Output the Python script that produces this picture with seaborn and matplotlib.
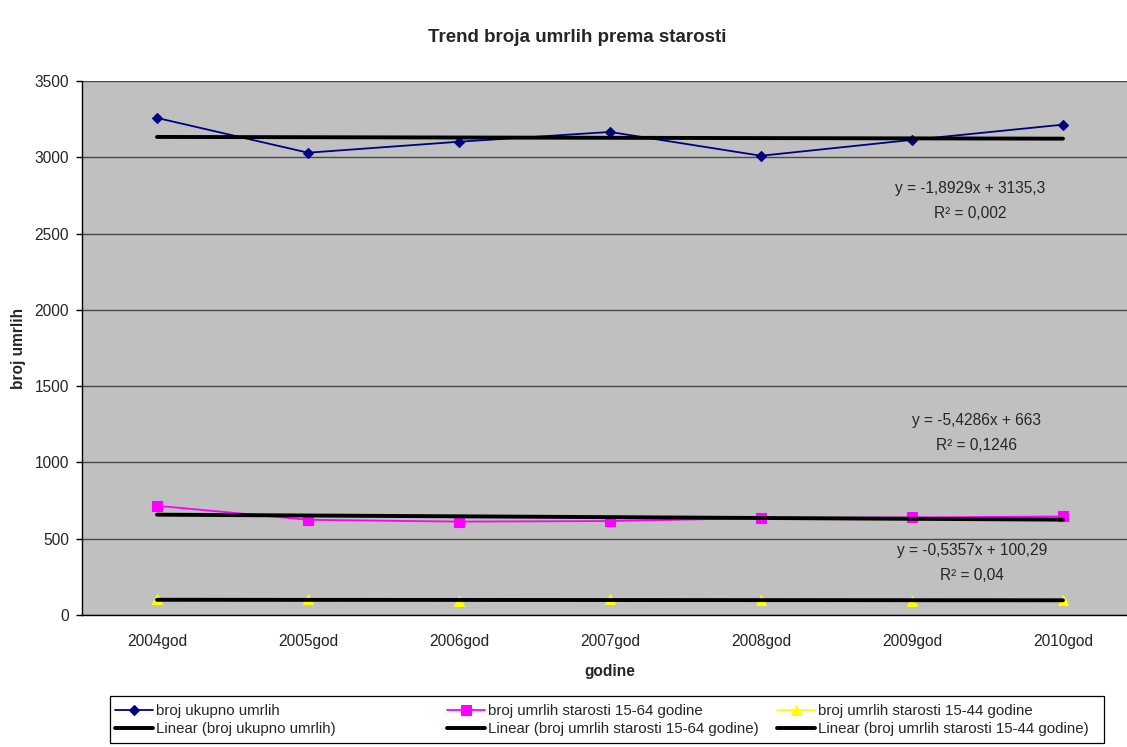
import numpy as np
import pandas as pd
import matplotlib
matplotlib.use("Agg")
import matplotlib.pyplot as plt
from matplotlib.patches import Rectangle
import seaborn as sns

# --- data -------------------------------------------------------------
years = ["2004god", "2005god", "2006god", "2007god", "2008god", "2009god", "2010god"]
total_deaths = [3258, 3030, 3102, 3166, 3010, 3114, 3214]
deaths_15_64 = [716, 624, 612, 616, 635, 640, 646]
deaths_15_44 = [103, 103, 91, 102, 97, 92, 99]

series_names = ["broj ukupno umrlih",
                "broj umrlih starosti 15-64 godine",
                "broj umrlih starosti 15-44 godine"]

# linear trend coefficients (x = 1..7) and R^2 for each series
trend_slopes = [-1.8929, -5.4286, -0.5357]
trend_intercepts = [3135.3, 663, 100.29]
trend_r2 = ["0,002", "0,1246", "0,04"]

y_ticks = [0, 500, 1000, 1500, 2000, 2500, 3000, 3500]

# --- style ------------------------------------------------------------
sns.set_style("white")
plt.rcParams["font.family"] = ["Liberation Sans", "DejaVu Sans"]

W, H = 1127, 747
fig = plt.figure(figsize=(W / 100, H / 100), dpi=100)
fig.patch.set_facecolor("white")

# plot area in pixel terms
left, right, top, bottom = 81.5, 1138.5, 81, 615
ax = fig.add_axes([left / W, 1 - bottom / H, (right - left) / W, (bottom - top) / H])
ax.set_facecolor("#C0C0C0")

pos = np.arange(len(years))
df = pd.DataFrame({
    "pos": np.tile(pos, 3),
    "value": total_deaths + deaths_15_64 + deaths_15_44,
    "series": np.repeat(series_names, len(years)),
})

colors = ["#000080", "#FF00FF", "#FFFF00"]
markers = ["D", "s", "^"]
msizes = [4.8, 7, 7]

data_handles = []
for name, c, m, ms in zip(series_names, colors, markers, msizes):
    sub = df[df["series"] == name]
    sns.lineplot(data=sub, x="pos", y="value", ax=ax, color=c, marker=m,
                 markersize=ms, markeredgecolor=c, markeredgewidth=0.8,
                 linewidth=1.3, legend=False, zorder=3)
    data_handles.append(ax.get_lines()[-1])

trend_handles = []
x_trend = pos + 1
for a, b in zip(trend_slopes, trend_intercepts):
    sns.lineplot(x=pos, y=a * x_trend + b, ax=ax, color="black",
                 linewidth=2.8, legend=False, zorder=4)
    trend_handles.append(ax.get_lines()[-1])

# axes, grid, ticks
ax.set_xlim(-0.5, len(years) - 0.5)
ax.set_ylim(0, 3500)
ax.set_yticks(y_ticks)
ax.yaxis.grid(True, color="#484848", linewidth=1.0)
ax.set_axisbelow(True)
ax.set_xticks(pos)
ax.set_xticklabels(years)
ax.set_xticks(np.arange(-0.5, len(years)), minor=True)
ax.tick_params(axis="x", which="major", length=0, pad=14, labelsize=11.2)
ax.tick_params(axis="x", which="minor", length=4, width=1, direction="out", color="black")
ax.tick_params(axis="y", length=4, width=1, direction="out", pad=5, labelsize=11.2,
               color="black", left=True)
for side in ["right", "top"]:
    ax.spines[side].set_visible(False)
for side in ["left", "bottom"]:
    ax.spines[side].set_color("black")
    ax.spines[side].set_linewidth(1.0)

ax.set_xlabel("godine", fontsize=11.2, fontweight="bold")
ax.set_ylabel("broj umrlih", fontsize=11.2, fontweight="bold")
ax.xaxis.set_label_coords(0.5, (bottom - 664) / (bottom - top))
ax.yaxis.set_label_coords((26 - left) / (right - left), 0.5)

fig.text(577 / W, 1 - 37 / H, "Trend broja umrlih prema starosti",
         ha="center", va="center", fontsize=13.5, fontweight="bold")

# trend equations
eq_pos = [(970, 188, 213), (977, 421, 445), (972, 551, 576)]
for (a, b, r2), (xc, y1, y2) in zip(zip(trend_slopes, trend_intercepts, trend_r2), eq_pos):
    eq = f"y = {a:g}x + {b:g}".replace(".", ",")
    fig.text(xc / W, 1 - y1 / H, eq, ha="center", va="center", fontsize=11.2)
    fig.text(xc / W, 1 - y2 / H, f"R² = {r2}", ha="center", va="center", fontsize=11.2)

# legend: framed box with three columns
fig.add_artist(Rectangle((110 / W, 1 - 743 / H), (1104 - 110) / W, (743 - 696) / H,
                         transform=fig.transFigure, fill=False, ec="black", lw=0.9))
col_x = [115, 447, 777]
for i, x0 in enumerate(col_x):
    fig.legend(handles=[data_handles[i], trend_handles[i]],
               labels=[series_names[i], f"Linear ({series_names[i]})"],
               loc="upper left", bbox_to_anchor=(x0 / W, 1 - 704 / H),
               frameon=False, borderpad=0, borderaxespad=0, handlelength=2.5,
               handletextpad=0.2, labelspacing=0.25, fontsize=10.8)

fig.savefig("out.png", dpi=100)
